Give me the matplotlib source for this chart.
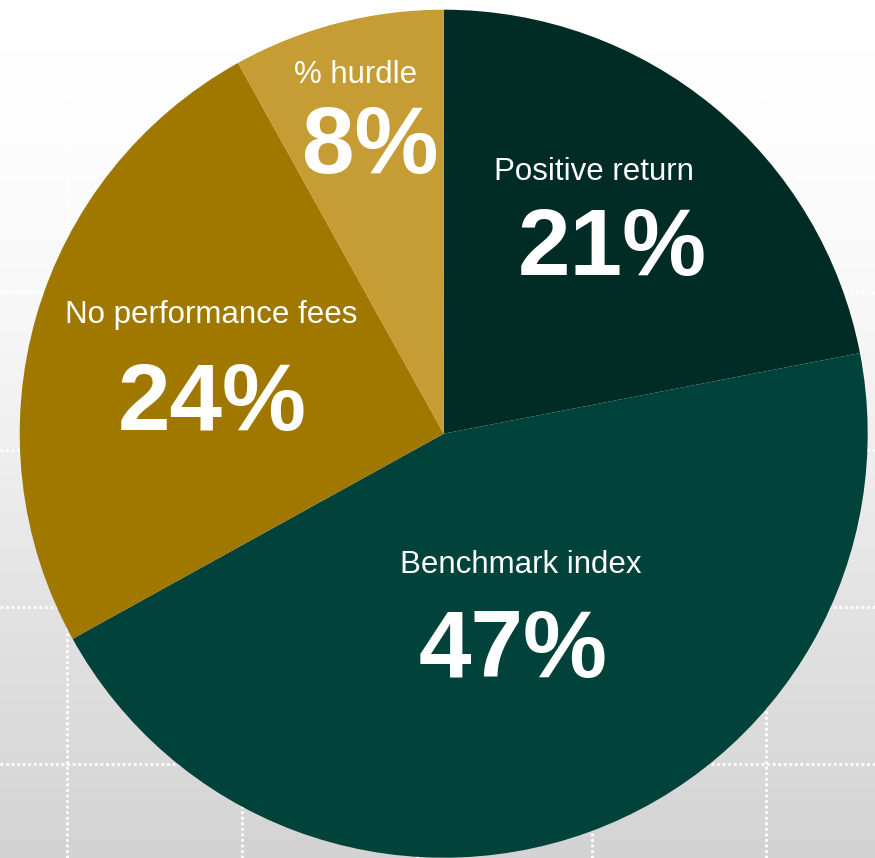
import numpy as np
import matplotlib
matplotlib.use("Agg")
import matplotlib.pyplot as plt

plt.rcParams['font.family'] = ['Liberation Sans', 'DejaVu Sans']

# slice shares as drawn (clockwise from 12 o'clock) and the printed labels
categories = ["Positive return", "Benchmark index", "No performance fees", "% hurdle"]
shares = [21.95, 45.0, 24.97, 8.06]
pct_labels = ["21%", "47%", "24%", "8%"]
colors = ["#012c26", "#01423a", "#a07800", "#c69c35"]

W, H = 875, 858


def py(y):
    """ pixel row (from top) to data y """
    return H - y


fig = plt.figure(figsize=(W / 100, H / 100), dpi=100)
ax = fig.add_axes([0, 0, 1, 1])

# background: white at top fading to light grey at the bottom
rows = np.arange(H)
shade = np.interp(rows, [0, 150, 300, 450, 600, 858], [255, 252, 247, 238, 226, 211]) / 255.0
grad = np.repeat(shade[:, None], 2, axis=1)
ax.imshow(grad, cmap='gray', vmin=0, vmax=1, extent=[0, W, 0, H],
          aspect='auto', zorder=0, origin='upper')

# dotted white grid behind the pie
for y in [135, 292, 450, 607, 764]:
    ax.axhline(py(y), color='white', lw=2, ls=(0, (1, 1)), zorder=1)
for x in [67, 242, 417, 592, 766]:
    ax.axvline(x, color='white', lw=2, ls=(0, (1, 1)), zorder=1)

cx, cy, r = 443.7, py(433.7), 424
wedges, _ = ax.pie(shares, colors=colors, startangle=90, counterclock=False,
                   center=(cx, cy), radius=r, frame=True,
                   wedgeprops=dict(linewidth=0))
for w in wedges:
    w.set_zorder(2)
ax.set_xlim(0, W)
ax.set_ylim(0, H)
ax.set_aspect('equal')
ax.axis('off')

# label layout: (name x, name baseline, pct x, pct baseline)
layout = [
    (594, 180, 612, 275),
    (521, 573, 513, 677),
    (211, 323, 212, 430),
    (356, 83, 370, 173),
]
for name, pct, (nx, ny, tx, ty) in zip(categories, pct_labels, layout):
    ax.text(nx, py(ny), name, color='white', fontsize=22.5,
            ha='center', va='baseline', zorder=3)
    ax.text(tx, py(ty), pct, color='white', fontsize=68, fontweight='bold',
            ha='center', va='baseline', zorder=3)

fig.savefig("out.png", dpi=100)
